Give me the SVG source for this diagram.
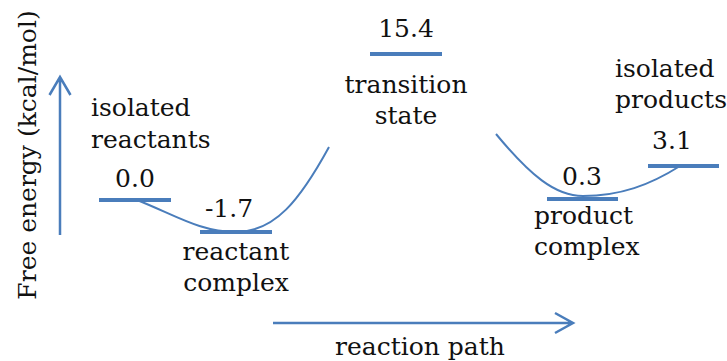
<svg xmlns="http://www.w3.org/2000/svg" width="727" height="361" viewBox="0 0 727 361">
<style>
text{font-family:"DejaVu Serif","Liberation Serif",serif;font-size:25px;fill:#111}
.lvl{stroke:#4a7dbb;stroke-width:4;fill:none}
.cur{stroke:#4a7dbb;stroke-width:2;fill:none}
.ax{stroke:#4a7dbb;stroke-width:2.5;fill:none}
.m{text-anchor:middle}
</style>
<rect width="727" height="361" fill="#fff"/>
<g id="axes">
<path class="ax" d="M60,235 V78 M49.5,95 L60,77 L70.5,95"/>
<path class="ax" d="M273,323 H572 M555,313 L573,323 L555,333"/>
<text transform="translate(36,155) rotate(-90)" class="m">Free energy (kcal/mol)</text>
<text x="420" y="355" class="m">reaction path</text>
</g>
<g id="connectors">
<path class="cur" d="M137,200 C175,215 200,232 236,232 C275,232 300,200 329,147"/>
<path class="cur" d="M496,134 C530,175 555,196 583,196 C620,196 650,185 680,166"/>
</g>
<g id="isolated-reactants">
<line class="lvl" x1="99" y1="200" x2="171" y2="200"/>
<text x="135" y="187" class="m">0.0</text>
<text x="91" y="116">isolated</text>
<text x="91" y="148">reactants</text>
</g>
<g id="reactant-complex">
<line class="lvl" x1="200" y1="232" x2="272" y2="232"/>
<text x="229" y="217" class="m">-1.7</text>
<text x="236" y="260" class="m">reactant</text>
<text x="236" y="291" class="m">complex</text>
</g>
<g id="transition-state">
<line class="lvl" x1="370" y1="54" x2="442" y2="54"/>
<text x="406" y="37" class="m">15.4</text>
<text x="406" y="93" class="m">transition</text>
<text x="406" y="124" class="m">state</text>
</g>
<g id="product-complex">
<line class="lvl" x1="547" y1="199" x2="618" y2="199"/>
<text x="582" y="185" class="m">0.3</text>
<text x="534" y="224">product</text>
<text x="534" y="255">complex</text>
</g>
<g id="isolated-products">
<line class="lvl" x1="648" y1="166" x2="719" y2="166"/>
<text x="672" y="149" class="m">3.1</text>
<text x="615" y="77">isolated</text>
<text x="615" y="108">products</text>
</g>
</svg>
